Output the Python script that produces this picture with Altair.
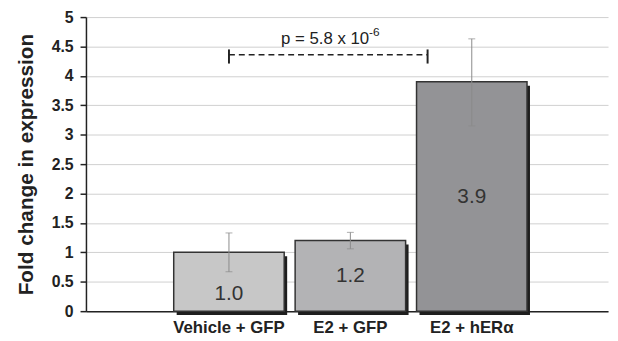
import altair as alt
import pandas as pd

categories = ["Vehicle + GFP", "E2 + GFP", "E2 + hERα"]
values = [1.0, 1.2, 3.9]
err_low = [0.67, 1.06, 3.15]
err_high = [1.33, 1.34, 4.63]
bar_labels = ["1.0", "1.2", "3.9"]
label_y = [0.29, 0.59, 1.94]
bar_colors = ["#c7c7c7", "#b3b3b5", "#939396"]
y_ticks = [0, 0.5, 1, 1.5, 2, 2.5, 3, 3.5, 4, 4.5, 5]

p_text = "p = 5.8 x 10"
p_exp = "-6"
bracket_y = 4.36
cap_low = 4.21
cap_high = 4.45
p_text_y = 4.55
p_exp_y = 4.68

FONT = "Liberation Sans"

df = pd.DataFrame({
    "cat": categories, "value": values, "lo": err_low, "hi": err_high,
    "label": bar_labels, "ly": label_y, "color": bar_colors,
})
br = pd.DataFrame({"a": [categories[0]], "b": [categories[2]], "y": [bracket_y],
                   "c0": [cap_low], "c1": [cap_high],
                   "mid": [categories[1]], "t": [p_text], "e": [p_exp],
                   "ty": [p_text_y], "ey": [p_exp_y]})

xscale = alt.Scale(domain=categories, paddingInner=0.09, paddingOuter=0.695, align=0.52)
yscale = alt.Scale(domain=[0, 5], nice=False)

x_axis = alt.Axis(title=None, labelAngle=0, ticks=False, grid=False)
y_axis = alt.Axis(title="Fold change in expression", values=y_ticks, format="~g", grid=True)


def X(field, **kw):
    return alt.X(field, scale=xscale, sort=categories, axis=x_axis, **kw)


def Y(field):
    return alt.Y(field, scale=yscale, axis=y_axis)


base = alt.Chart(df)

shadow = base.mark_bar(color="#1e1e1e", xOffset=3, x2Offset=3, yOffset=4).encode(
    x=X("cat:N"), y=Y("value:Q"),
)
bars = base.mark_bar(stroke="#333333", strokeWidth=1.5).encode(
    x=X("cat:N"), y=Y("value:Q"),
    color=alt.Color("color:N", scale=None),
)
err = base.mark_rule(color="#8a8a8a", strokeWidth=1).encode(
    x=X("cat:N"), y=Y("lo:Q"), y2="hi:Q")
cap_lo = base.mark_tick(color="#8a8a8a", thickness=1, size=7).encode(
    x=X("cat:N"), y=Y("lo:Q"))
cap_hi = base.mark_tick(color="#8a8a8a", thickness=1, size=7).encode(
    x=X("cat:N"), y=Y("hi:Q"))
labels = base.mark_text(fontSize=21, font=FONT, color="#333", baseline="middle").encode(
    x=X("cat:N"), y=Y("ly:Q"), text="label:N")

bb = alt.Chart(br)
dash = bb.mark_rule(color="#222", strokeWidth=1.5, strokeDash=[6, 4]).encode(
    x=X("a:N", bandPosition=0.5),
    x2=alt.X2("b:N", bandPosition=0.1),
    y=Y("y:Q"))
capL = bb.mark_rule(color="#222", strokeWidth=2).encode(
    x=X("a:N", bandPosition=0.5), y=Y("c0:Q"), y2="c1:Q")
capR = bb.mark_rule(color="#222", strokeWidth=2).encode(
    x=X("b:N", bandPosition=0.1), y=Y("c0:Q"), y2="c1:Q")
ptxt = bb.mark_text(fontSize=17, font=FONT, color="#222", align="right", baseline="alphabetic", dx=19).encode(
    x=X("mid:N"), y=Y("ty:Q"), text="t:N")
pexp = bb.mark_text(fontSize=12, font=FONT, color="#222", align="left", baseline="alphabetic", dx=19).encode(
    x=X("mid:N"), y=Y("ey:Q"), text="e:N")

chart = alt.layer(shadow, bars, err, cap_lo, cap_hi, labels, dash, capL, capR, ptxt, pexp).properties(
    width=529, height=298,
    padding={"left": 79, "top": 7, "right": 2, "bottom": 26},
    autosize=alt.AutoSizeParams(type="none"),
    background="white",
).configure_view(stroke=None).configure_axisY(
    labelFontSize=16, labelFontWeight="bold", labelColor="#222", labelFont=FONT,
    titleFont=FONT, titleFontSize=21, titleFontWeight="bold", titleColor="#222",
    titlePadding=15, tickSize=6, tickColor="#222", tickWidth=1.5,
    domainColor="#222", domainWidth=1.5, labelPadding=7,
    gridColor="#cfcfcf", gridWidth=1,
).configure_axisX(
    labelFontSize=17, labelFontWeight="bold", labelColor="#222", labelFont=FONT,
    domainColor="#222", domainWidth=1.5, labelPadding=9,
)

chart.save("out.html", embed_options={"renderer": "svg", "actions": False})
